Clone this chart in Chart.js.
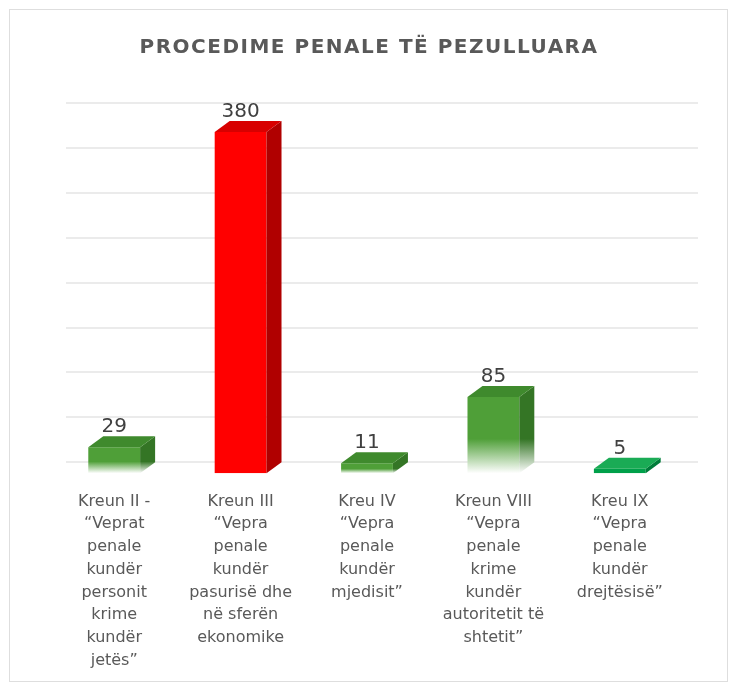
<!DOCTYPE html>
<html lang="sq">
<head>
  <meta charset="UTF-8">
  <title>Procedime penale të pezulluara</title>
  <script src="https://cdn.jsdelivr.net/npm/chart.js"></script>
  <style>
    html, body { margin: 0; padding: 0; background: #fff; }
    .wrap { position: relative; width: 734px; height: 689px; }
  </style>
</head>
<body>
  <div class="wrap"><canvas id="chart"></canvas></div>

  <script>
    // te dhenat
    const chartTitle = 'PROCEDIME PENALE TË PEZULLUARA';
    const categories = [
      ['Kreun II -', '“Veprat', 'penale', 'kundër', 'personit', 'krime', 'kundër', 'jetës”'],
      ['Kreun III', '“Vepra', 'penale', 'kundër', 'pasurisë dhe', 'në sferën', 'ekonomike'],
      ['Kreu IV', '“Vepra', 'penale', 'kundër', 'mjedisit”'],
      ['Kreun VIII', '“Vepra', 'penale', 'krime', 'kundër', 'autoritetit të', 'shtetit”'],
      ['Kreu IX', '“Vepra', 'penale', 'kundër', 'drejtësisë”']
    ];
    const values = [29, 380, 11, 85, 5];
    const yTicks = [0, 50, 100, 150, 200, 250, 300, 350, 400];

    // ngjyrat (ballë, krye, anë) dhe zbehja poshtë
    const frontCol = ['#4f9f38', '#ff0000', '#4f9f38', '#4f9f38', '#00a04a'];
    const topCol   = ['#3f8a2d', '#d80000', '#3f8a2d', '#3f8a2d', '#1aab55'];
    const sideCol  = ['#347525', '#b00000', '#347525', '#347525', '#007c3a'];
    const fade     = [true, false, true, true, false];

    // efekti 3D
    const DX = 15, DY = 11;

    // gradient nga maja e shiritit deri poshte
    function fadeFill(ctx, col, doFade, y0, y1) {
      if (!doFade || y1 - y0 < 1) return col;
      const g = ctx.createLinearGradient(0, y0, 0, y1);
      g.addColorStop(0, col);
      g.addColorStop(0.55, col);
      g.addColorStop(1, '#ffffff');
      return g;
    }

    const bars3d = {
      id: 'bars3d',
      beforeDatasetsDraw(chart) {
        const { ctx, chartArea, scales } = chart;
        // vijat e rrjetit ne murin e pasem
        ctx.save();
        ctx.strokeStyle = '#ebebeb';
        ctx.lineWidth = 2;
        yTicks.forEach(t => {
          const y = Math.round(scales.y.getPixelForValue(t));
          ctx.beginPath();
          ctx.moveTo(chartArea.left + DX, y);
          ctx.lineTo(chartArea.right + DX, y);
          ctx.stroke();
        });
        ctx.restore();
      },
      beforeDatasetDraw(chart) {
        chart.ctx.save();
        chart.ctx.translate(0, DY);
      },
      afterDatasetDraw(chart) {
        chart.ctx.restore();
        const ctx = chart.ctx;
        const meta = chart.getDatasetMeta(0);
        meta.data.forEach((bar, i) => {
          const w = bar.width, x = bar.x, y = bar.y, b = bar.base;
          const l = x - w / 2, r = x + w / 2;
          // ana
          ctx.beginPath();
          ctx.moveTo(r, y + DY);
          ctx.lineTo(r + DX, y);
          ctx.lineTo(r + DX, b);
          ctx.lineTo(r, b + DY);
          ctx.closePath();
          ctx.fillStyle = fadeFill(ctx, sideCol[i], fade[i], y + DY, b + DY);
          ctx.fill();
          // kreu
          ctx.beginPath();
          ctx.moveTo(l, y + DY);
          ctx.lineTo(l + DX, y);
          ctx.lineTo(r + DX, y);
          ctx.lineTo(r, y + DY);
          ctx.closePath();
          ctx.fillStyle = topCol[i];
          ctx.fill();
          // vlera
          ctx.save();
          ctx.fillStyle = '#404040';
          ctx.font = '20px "DejaVu Sans"';
          ctx.textAlign = 'center';
          ctx.textBaseline = 'alphabetic';
          ctx.fillText(values[i], x, y - 4);
          ctx.restore();
        });
      },
      afterDraw(chart) {
        const ctx = chart.ctx;
        ctx.save();
        // korniza
        ctx.strokeStyle = '#dedede';
        ctx.lineWidth = 1;
        ctx.strokeRect(9.5, 9.5, 718, 672);
        // titulli
        ctx.fillStyle = '#595959';
        ctx.font = 'bold 20px "DejaVu Sans"';
        ctx.letterSpacing = '1.5px';
        ctx.textAlign = 'center';
        ctx.textBaseline = 'middle';
        ctx.fillText(chartTitle, 369, 48);
        ctx.restore();
      }
    };

    new Chart(document.getElementById('chart'), {
      type: 'bar',
      data: {
        labels: categories,
        datasets: [{
          data: values,
          backgroundColor: c => {
            const i = c.dataIndex;
            const ca = c.chart.chartArea;
            if (!ca) return frontCol[i];
            const sy = c.chart.scales.y;
            // koordinatat para zhvendosjes DY
            return fadeFill(c.chart.ctx, frontCol[i], fade[i],
              sy.getPixelForValue(values[i]), sy.getPixelForValue(0));
          },
          borderWidth: 0,
          barPercentage: 0.41,
          categoryPercentage: 1
        }]
      },
      options: {
        responsive: true,
        maintainAspectRatio: false,
        animation: false,
        layout: { padding: { top: 103, left: 51, right: 51, bottom: -11 } },
        plugins: { legend: { display: false }, tooltip: { enabled: false } },
        scales: {
          x: {
            grid: { display: false, drawTicks: false },
            border: { display: false },
            ticks: {
              color: '#595959',
              font: { family: 'DejaVu Sans', size: 16, lineHeight: 1.42 },
              padding: 28,
              maxRotation: 0,
              autoSkip: false
            }
          },
          y: {
            display: false,
            min: 0,
            max: 400,
            ticks: { stepSize: 50 }
          }
        }
      },
      plugins: [bars3d]
    });
  </script>
</body>
</html>
